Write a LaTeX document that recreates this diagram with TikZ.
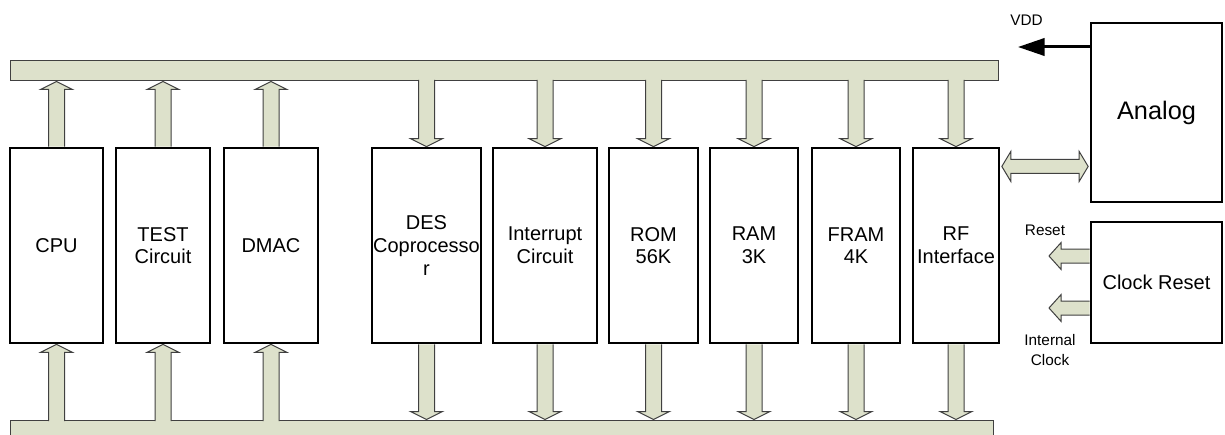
\documentclass[tikz,border=0pt]{standalone}
\usepackage{fontspec}
\setmainfont{Liberation Sans}
\usetikzlibrary{calc,arrows.meta}
\definecolor{busgreen}{RGB}{221,225,203}
\definecolor{busline}{RGB}{64,64,64}
\tikzset{
  blk/.style={draw, line width=2pt, minimum height=146.25pt, inner sep=0pt, align=center, font=\fontsize{15}{17}\selectfont},
  bus/.style={draw=busline, fill=busgreen, line width=0.75pt, inner sep=0pt},
  lbl/.style={align=center, font=\fontsize{11.5}{15}\selectfont}
}
% fat bus arrow: start, tip, shaft half width, head half width, head length
\newcommand{\fatarrow}[5]{
    \coordinate (faa) at (#1);
    \coordinate (fab) at (#2);
    \coordinate (fah) at ($(fab)!#5!(faa)$);
    \fill[busgreen] ($(faa)!#3!90:(fab)$) -- ($(fah)!#3!90:(fab)$) -- ($(fah)!#4!90:(fab)$) -- (fab)
      -- ($(fah)!#4!-90:(fab)$) -- ($(fah)!#3!-90:(fab)$) -- ($(faa)!#3!-90:(fab)$) -- cycle;
    \draw[busline, line width=0.75pt] ($(faa)!#3!90:(fab)$) -- ($(fah)!#3!90:(fab)$) -- ($(fah)!#4!90:(fab)$) -- (fab)
      -- ($(fah)!#4!-90:(fab)$) -- ($(fah)!#3!-90:(fab)$) -- ($(faa)!#3!-90:(fab)$);
}
% same with a head at both ends
\newcommand{\fatdarrow}[5]{
    \coordinate (faa) at (#1);
    \coordinate (fab) at (#2);
    \coordinate (fha) at ($(faa)!#5!(fab)$);
    \coordinate (fhb) at ($(fab)!#5!(faa)$);
    \filldraw[fill=busgreen, draw=busline, line width=0.75pt] (faa) -- ($(fha)!#4!90:(fab)$) -- ($(fha)!#3!90:(fab)$)
      -- ($(fhb)!#3!90:(fab)$) -- ($(fhb)!#4!90:(fab)$) -- (fab) -- ($(fhb)!#4!-90:(fab)$) -- ($(fhb)!#3!-90:(fab)$)
      -- ($(fha)!#3!-90:(fab)$) -- ($(fha)!#4!-90:(fab)$) -- cycle;
}
\begin{document}
\begin{tikzpicture}[x=0.75pt, y=-0.75pt]
  \useasboundingbox (0,0) rectangle (1225,435);

  % Draw the buses
  \node[bus, minimum width=741pt, minimum height=15pt] (topbus) at (504,71) {};
  \node[bus, minimum width=737.25pt, minimum height=22.5pt] (botbus) at (501.5,435) {};

  % Draw the blocks
  \node[blk, minimum width=69.75pt] (cpu) at (56.5,245.5) {CPU};
  \node[blk, minimum width=70.5pt] (test) at (163,245.5) {TEST\\Circuit};
  \node[blk, minimum width=70.5pt] (dmac) at (271,245.5) {DMAC};
  \node[blk, minimum width=81.75pt] (des) at (426.5,245.5) {DES\\Coprocesso\\r};
  \node[blk, minimum width=78pt] (intr) at (545,245.5) {Interrupt\\Circuit};
  \node[blk, minimum width=66.75pt] (rom) at (653.5,245.5) {ROM\\56K};
  \node[blk, minimum width=66pt] (ram) at (754,245.5) {RAM\\3K};
  \node[blk, minimum width=66pt] (fram) at (856,245.5) {FRAM\\4K};
  \node[blk, minimum width=64.5pt] (rf) at (956,245.5) {RF\\Interface};
  \node[blk, minimum width=98.25pt, minimum height=134.25pt, font=\fontsize{19}{22}\selectfont] (analog) at (1156.5,112.5) {Analog};
  \node[blk, minimum width=98.25pt, minimum height=90.75pt] (clkrst) at (1156.5,282.5) {Clock Reset};

  % Masters write to the top bus, read from the bottom bus
  \foreach \b in {cpu,test,dmac} {
    \fatarrow{\b.north}{\b.north |- topbus.south}{6pt}{12pt}{6pt}
    \fatarrow{$(\b.south |- botbus.north)+(0,1.5)$}{\b.south}{6pt}{12pt}{6pt}
  }
  % Slaves
  \foreach \b in {des,intr,rom,ram,fram,rf} {
    \fatarrow{$(\b.north |- topbus.south)+(0,-1.5)$}{\b.north}{6pt}{12pt}{6pt}
    \fatarrow{\b.south}{\b.south |- botbus.north}{6pt}{12pt}{6pt}
  }

  % RF <-> Analog
  \coordinate (rfa) at ($(rf.north east)!.1!(rf.south east)+(1.5,0)$);
  \coordinate (rfb) at ($(analog.west |- rfa)+(-1.5,0)$);
  \fatdarrow{rfa}{rfb}{5.25pt}{11.25pt}{6.75pt}

  % VDD
  \coordinate (vddend) at (1018,47);
  \draw[line width=2.25pt, -{Triangle[length=20pt,width=13pt]}] (analog.west |- vddend) -- (vddend);
  \node[lbl] (vdd) at (1026.5,20.5) {VDD};

  % Reset and clock outputs
  \coordinate (rstend) at (1049,256);
  \coordinate (iclkend) at (1049,308);
  \fatarrow{clkrst.west |- rstend}{rstend}{5.25pt}{10pt}{9pt}
  \fatarrow{clkrst.west |- iclkend}{iclkend}{5.25pt}{10pt}{9pt}
  \node[lbl] (reset) at (1045,230) {Reset};
  \node[lbl] (intclk) at (1050,350) {Internal\\Clock};
\end{tikzpicture}
\end{document}
